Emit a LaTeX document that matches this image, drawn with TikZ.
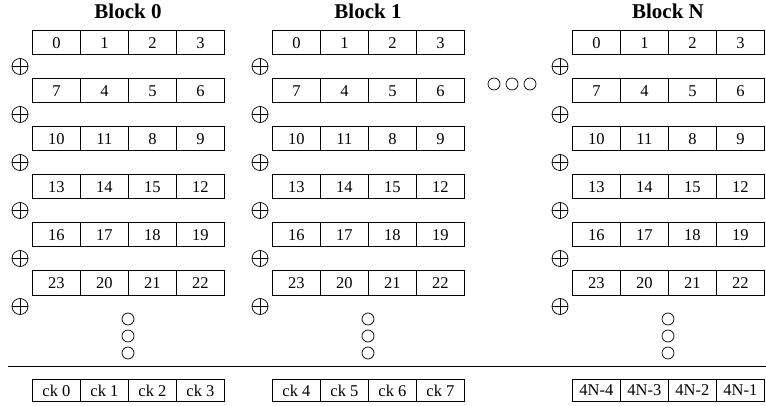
\documentclass[tikz,border=0pt]{standalone}
\usepackage{fontspec}
\setmainfont{Liberation Serif}
\begin{document}
\begin{tikzpicture}[x=1pt,y=-1pt,
  cell/.style={draw, line width=0.8pt, minimum width=48pt, minimum height=24pt,
    inner sep=0pt, anchor=north west, font=\fontsize{16.5}{18}\selectfont},
  ckcell/.style={cell, minimum height=22pt},
  title/.style={font=\fontsize{21}{24}\selectfont\bfseries},
  xorsym/.style={draw, circle, line width=0.7pt, minimum size=16pt, inner sep=0pt,
    path picture={\draw[line width=0.7pt]
      (path picture bounding box.north) -- (path picture bounding box.south)
      (path picture bounding box.west) -- (path picture bounding box.east);}},
  ring/.style={draw, circle, line width=0.7pt, minimum size=12pt, inner sep=0pt}]
\useasboundingbox (0,0) rectangle (766,406);

% three blocks of six rows, each row four cells wide
\foreach \bx/\bn [count=\b] in {32/0, 272/1, 572/N} {
  \node[title] (title\b) at (\bx+96, 11.5) {Block \bn};
  \foreach \ca/\cb/\cc/\cd [count=\i from 0] in
      {0/1/2/3, 7/4/5/6, 10/11/8/9, 13/14/15/12, 16/17/18/19, 23/20/21/22} {
    \node[cell] (c\b-\i-a) at (\bx,     30.5+48*\i) {\ca};
    \node[cell] (c\b-\i-b) at (\bx+48,  30.5+48*\i) {\cb};
    \node[cell] (c\b-\i-c) at (\bx+96,  30.5+48*\i) {\cc};
    \node[cell] (c\b-\i-d) at (\bx+144, 30.5+48*\i) {\cd};
    \node[xorsym] (x\b-\i) at (\bx-12, 66.5+48*\i) {};
  }
  \foreach \k in {0,1,2}
    \node[ring] (v\b-\k) at (\bx+96, 319+17*\k) {};
}

% ellipsis between block 1 and block N
\foreach \k in {0,1,2}
  \node[ring] (h\k) at (494+18*\k, 84) {};

% separator
\coordinate (sepL) at (8,366);
\coordinate (sepR) at (766,366);
\draw[line width=0.8pt] (sepL) -- (sepR);

% clock cells
\foreach \bx/\la/\lb/\lc/\ld [count=\b] in
    {32/ck 0/ck 1/ck 2/ck 3, 272/ck 4/ck 5/ck 6/ck 7, 572/4N-4/4N-3/4N-2/4N-1} {
  \node[ckcell] (k\b-a) at (\bx,     379) {\la};
  \node[ckcell] (k\b-b) at (\bx+48,  379) {\lb};
  \node[ckcell] (k\b-c) at (\bx+96,  379) {\lc};
  \node[ckcell] (k\b-d) at (\bx+144, 379) {\ld};
}
\end{tikzpicture}
\end{document}
